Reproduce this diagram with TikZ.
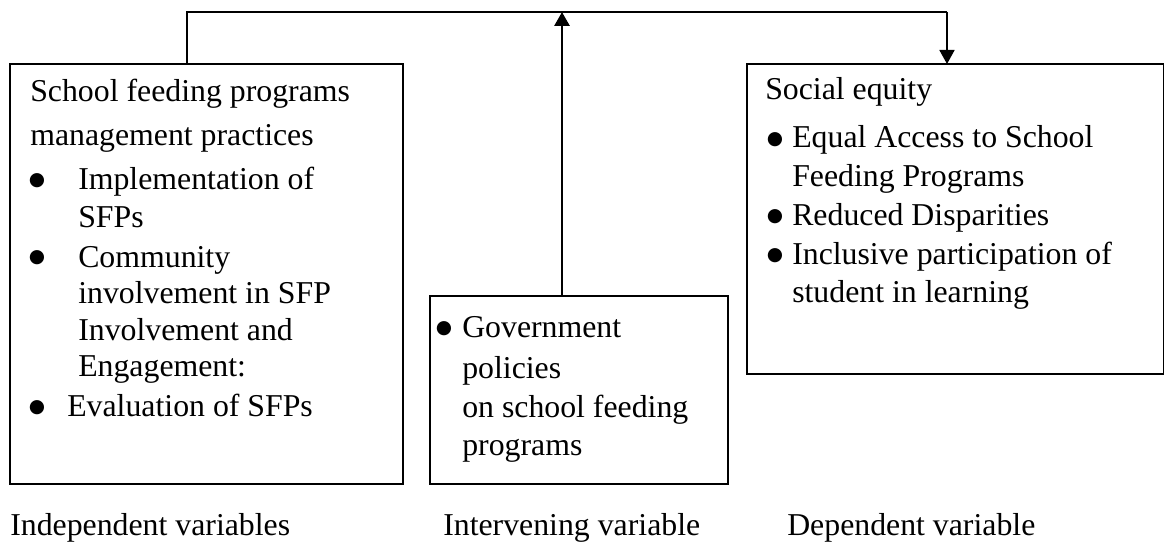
\documentclass[tikz,border=0pt]{standalone}
\usepackage{fontspec}
\setmainfont{Liberation Serif}
\newfontfamily\dejavu{DejaVu Sans}
\usetikzlibrary{arrows.meta}
\tikzset{
  box/.style={draw, line width=1.4pt, anchor=north west, inner sep=0pt, outer sep=0pt},
  txt/.style={anchor=base west, inner sep=0pt, font=\fontsize{23.85}{28}\selectfont},
  bul/.style={anchor=center, inner sep=0pt, font=\dejavu\fontsize{14}{14}\selectfont},
  conn/.style={line width=1.3pt},
  tip/.style={-{Triangle[width=11.25pt,length=10.5pt]}}
}
\begin{document}
\begin{tikzpicture}[x=0.75pt,y=-0.75pt]
\useasboundingbox (0,0) rectangle (1165,542);
% boxes
\node[box, minimum width=393*0.75pt, minimum height=420*0.75pt] (left) at (10,64) {};
\node[box, minimum width=298*0.75pt, minimum height=188*0.75pt] (mid) at (430,296) {};
\node[box, minimum width=416.5*0.75pt, minimum height=310*0.75pt] (right) at (747,64) {};
% connector coordinates
\coordinate (tl) at (187,12);
\coordinate (tm) at (562,12);
\coordinate (tr) at (947,12);
\draw[conn] (left.north -| tl) -- (tl) -- (tr);
\draw[conn, tip] (tr) -- (right.north -| tr);
\draw[line width=2.2pt, tip] (mid.north -| tm) -- (tm);
% left box text
\node[txt] (l1) at (30,102) {School feeding programs};
\node[txt] (l2) at (30,146) {management practices};
\node[bul] (lb1) at (37,181) {●};
\node[txt] (l3) at (78,190) {Implementation of};
\node[txt] (l4) at (78,227) {SFPs};
\node[bul] (lb2) at (37,258) {●};
\node[txt] (l5) at (78,267) {Community};
\node[txt] (l6) at (78,303) {involvement in SFP};
\node[txt] (l7) at (78,340) {Involvement and};
\node[txt] (l8) at (78,376) {Engagement:};
\node[bul] (lb3) at (37,408) {●};
\node[txt] (l9) at (67,416) {Evaluation of SFPs};
% middle box text
\node[bul] (mb1) at (444,329) {●};
\node[txt] (m1) at (462,337) {Government};
\node[txt] (m2) at (462,378) {policies};
\node[txt] (m3) at (462,417) {on school feeding};
\node[txt] (m4) at (462,455) {programs};
% right box text
\node[txt] (r1) at (765,100) {Social equity};
\node[bul] (rb1) at (775,140) {●};
\node[txt] (r2) at (792,147) {Equal Access to School};
\node[txt] (r3) at (792,186) {Feeding Programs};
\node[bul] (rb2) at (775,217) {●};
\node[txt] (r4) at (792,225) {Reduced Disparities};
\node[bul] (rb3) at (775,256) {●};
\node[txt] (r5) at (792,264) {Inclusive participation of};
\node[txt] (r6) at (792,302) {student in learning};
% bottom labels
\node[txt] (c1) at (10,535) {Independent variables};
\node[txt] (c2) at (443,535) {Intervening variable};
\node[txt] (c3) at (787,535) {Dependent variable};
\end{tikzpicture}
\end{document}
